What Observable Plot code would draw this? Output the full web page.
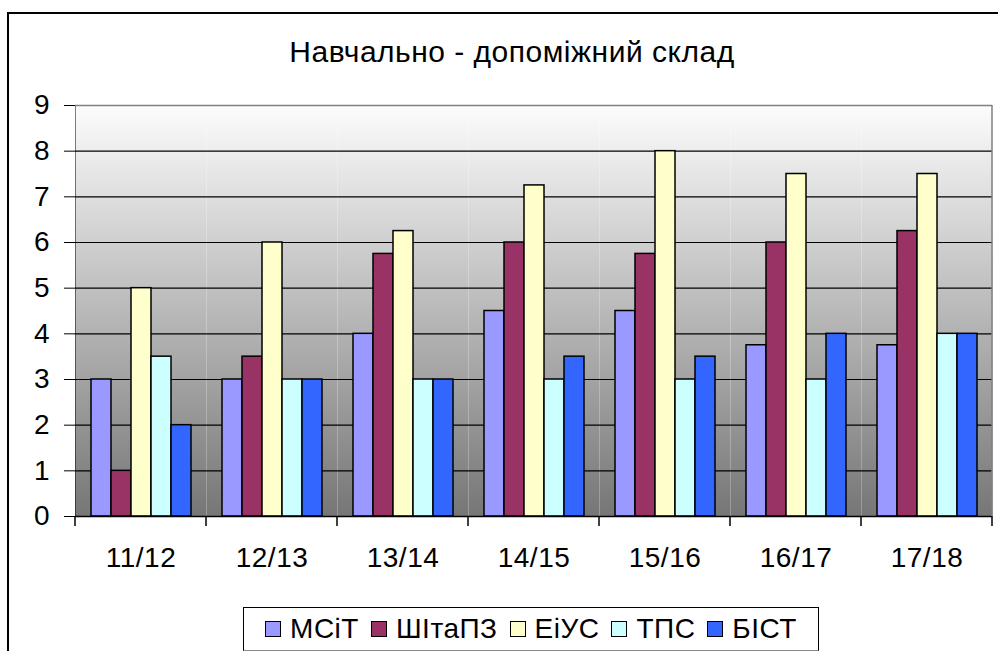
<!DOCTYPE html>
<html><head><meta charset="utf-8">
<script src="https://cdn.jsdelivr.net/npm/d3@7"></script>
<script src="https://cdn.jsdelivr.net/npm/@observablehq/plot@0.6"></script>
<style>
html,body{margin:0;padding:0;width:998px;height:651px;overflow:hidden;background:#fff;font-family:"Liberation Sans",Arial,sans-serif;}
#frame{position:absolute;left:7px;top:12px;width:1000px;height:700px;border:2px solid #000;box-sizing:border-box;}
#title{position:absolute;left:0;top:37px;width:1024px;text-align:center;font-size:30px;line-height:30px;letter-spacing:0.5px;color:#000;}
#chart{position:absolute;left:0;top:0;}
#legend{position:absolute;left:243px;top:607px;width:576px;height:44px;border:1px solid #000;border-bottom-color:#888;box-sizing:border-box;display:flex;align-items:center;justify-content:center;font-size:28px;line-height:28px;letter-spacing:0.5px;}
.item{display:flex;align-items:center;margin:0 6px;}
.sw{width:16px;height:16px;border:1px solid #000;box-sizing:border-box;margin-right:9px;}
#chart svg [aria-label^="fx-axis"] text{letter-spacing:0.5px;}
</style></head>
<body>
<div id="frame"></div>
<div id="title">Навчально - допоміжний склад</div>
<div id="chart"></div>
<div id="legend"></div>
<script>
const years = ["11/12","12/13","13/14","14/15","15/16","16/17","17/18"];
const series = ["МСіТ","ШІтаПЗ","ЕіУС","ТПС","БІСТ"];
const colors = ["#9999FF","#993366","#FFFFCC","#CCFFFF","#3366FF"];
const msit    = [3, 3, 4, 4.5, 4.5, 3.75, 3.75];
const shitapz = [1, 3.5, 5.75, 6, 5.75, 6, 6.25];
const eius    = [5, 6, 6.25, 7.25, 8, 7.5, 7.5];
const tps     = [3.5, 3, 3, 3, 3, 3, 4];
const bist    = [2, 3, 3, 3.5, 3.5, 4, 4];
const yTicks = [0,1,2,3,4,5,6,7,8,9];

const valuesBySeries = [msit, shitapz, eius, tps, bist];
const rows = [];
years.forEach((yr, i) => series.forEach((s, j) => rows.push({year: yr, series: s, value: valuesBySeries[j][i]})));

const chart = Plot.plot({
  width: 998, height: 580,
  marginLeft: 72, marginRight: 3, marginTop: 105, marginBottom: 64,
  style: {fontFamily: "'Liberation Sans', Arial, sans-serif", fontSize: "28px", color: "#000", background: "transparent", overflow: "visible"},
  fx: {domain: years, paddingInner: 0, paddingOuter: 0, axis: "bottom", tickSize: 0, tickPadding: 31, label: null},
  x: {domain: series, paddingInner: 0, paddingOuter: 0.72, axis: null},
  y: {domain: [0, 9], ticks: yTicks, tickSize: 11, tickPadding: 15, label: null, line: true},
  color: {domain: series, range: colors},
  facet: {data: rows, x: "year"},
  marks: [
    Plot.frame({fill: "url(#bgGrad)", stroke: "none"}),
    Plot.ruleY(yTicks.slice(1, -1), {stroke: "#000", strokeWidth: 1.2}),
    Plot.ruleY([yTicks[yTicks.length - 1]], {stroke: "#808080", strokeWidth: 1.5}),
    Plot.barY(rows, {x: "series", y: "value", fill: "series", stroke: "#000", strokeWidth: 1.5}),
    Plot.ruleY([0], {stroke: "#000", strokeWidth: 1.5})
  ]
});
document.getElementById("chart").appendChild(chart);

// gradient background of plot area
const svg = d3.select(chart);
const grad = svg.insert("defs", ":first-child").append("linearGradient")
  .attr("id", "bgGrad").attr("x1", 0).attr("y1", 0).attr("x2", 0).attr("y2", 1);
grad.append("stop").attr("offset", 0).attr("stop-color", "#fcfcfc");
grad.append("stop").attr("offset", 1).attr("stop-color", "#767676");

// category boundary ticks and right border, from the library's scales
const fx = chart.scale("fx"), y = chart.scale("y");
const bw = fx.bandwidth != null ? fx.bandwidth : (fx.range[1] - fx.range[0]) / years.length;
const bounds = years.map(d => fx.apply(d)).concat([fx.apply(years[years.length - 1]) + bw]);
const y0 = y.apply(0), yTop = y.apply(9);
const g = svg.append("g").attr("stroke", "#000").attr("stroke-width", 1.5);
bounds.forEach(b => g.append("line").attr("x1", b).attr("x2", b).attr("y1", y0).attr("y2", y0 + 10));
svg.append("line").attr("x1", bounds[bounds.length - 1]).attr("x2", bounds[bounds.length - 1])
  .attr("y1", yTop).attr("y2", y0).attr("stroke", "#808080").attr("stroke-width", 1.5);

// legend
const legend = d3.select("#legend");
series.forEach((s, i) => {
  const it = legend.append("div").attr("class", "item");
  it.append("div").attr("class", "sw").style("background", colors[i]);
  it.append("span").text(s);
});
</script>
</body></html>
